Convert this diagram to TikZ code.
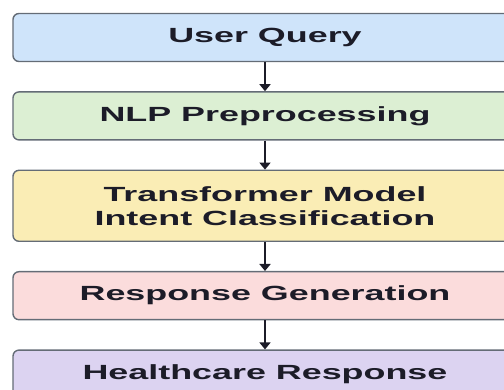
\documentclass[tikz,border=0pt]{standalone}
\usepackage{fontspec}
\setmainfont{Liberation Sans}[FakeStretch=1.75]
\usepackage{tikz}
\usetikzlibrary{positioning,arrows.meta}

\definecolor{edgegray}{HTML}{646C76}
\definecolor{inkdark}{HTML}{1C1C28}
\definecolor{queryblue}{HTML}{CFE4FA}
\definecolor{prepgreen}{HTML}{DCEFD3}
\definecolor{modelyellow}{HTML}{FAEDB5}
\definecolor{genpink}{HTML}{FBDCDC}
\definecolor{carepurple}{HTML}{DCD3F1}

\begin{document}
\begin{tikzpicture}[stage/.style={rectangle, rounded corners=6pt, draw=edgegray, line width=1.4pt,
		minimum width=504pt, minimum height=48pt, align=center, text=inkdark,
		font=\bfseries\fontsize{20.5pt}{24pt}\selectfont},
	flow/.style={-{Triangle[width=11pt,length=7pt]}, line width=2pt, draw=inkdark}]
\clip (0,0) rectangle (504pt,-390pt);
\node [stage, fill=queryblue] (query) at (265pt,-37.5pt) {User Query};
\node [stage, fill=prepgreen, below=29pt of query] (prep) {NLP Preprocessing};
\node [stage, fill=modelyellow, minimum height=71pt, below=29pt of prep] (model)
	{Transformer Model\\Intent Classification};
\node [stage, fill=genpink, below=29pt of model] (gen) {Response Generation};
\node [stage, fill=carepurple, below=29pt of gen] (care) {Healthcare Response};
% arrows between the stages
\draw [flow] (query) -- (prep);
\draw [flow] (prep) -- (model);
\draw [flow] (model) -- (gen);
\draw [flow] (gen) -- (care);
\end{tikzpicture}
\end{document}
